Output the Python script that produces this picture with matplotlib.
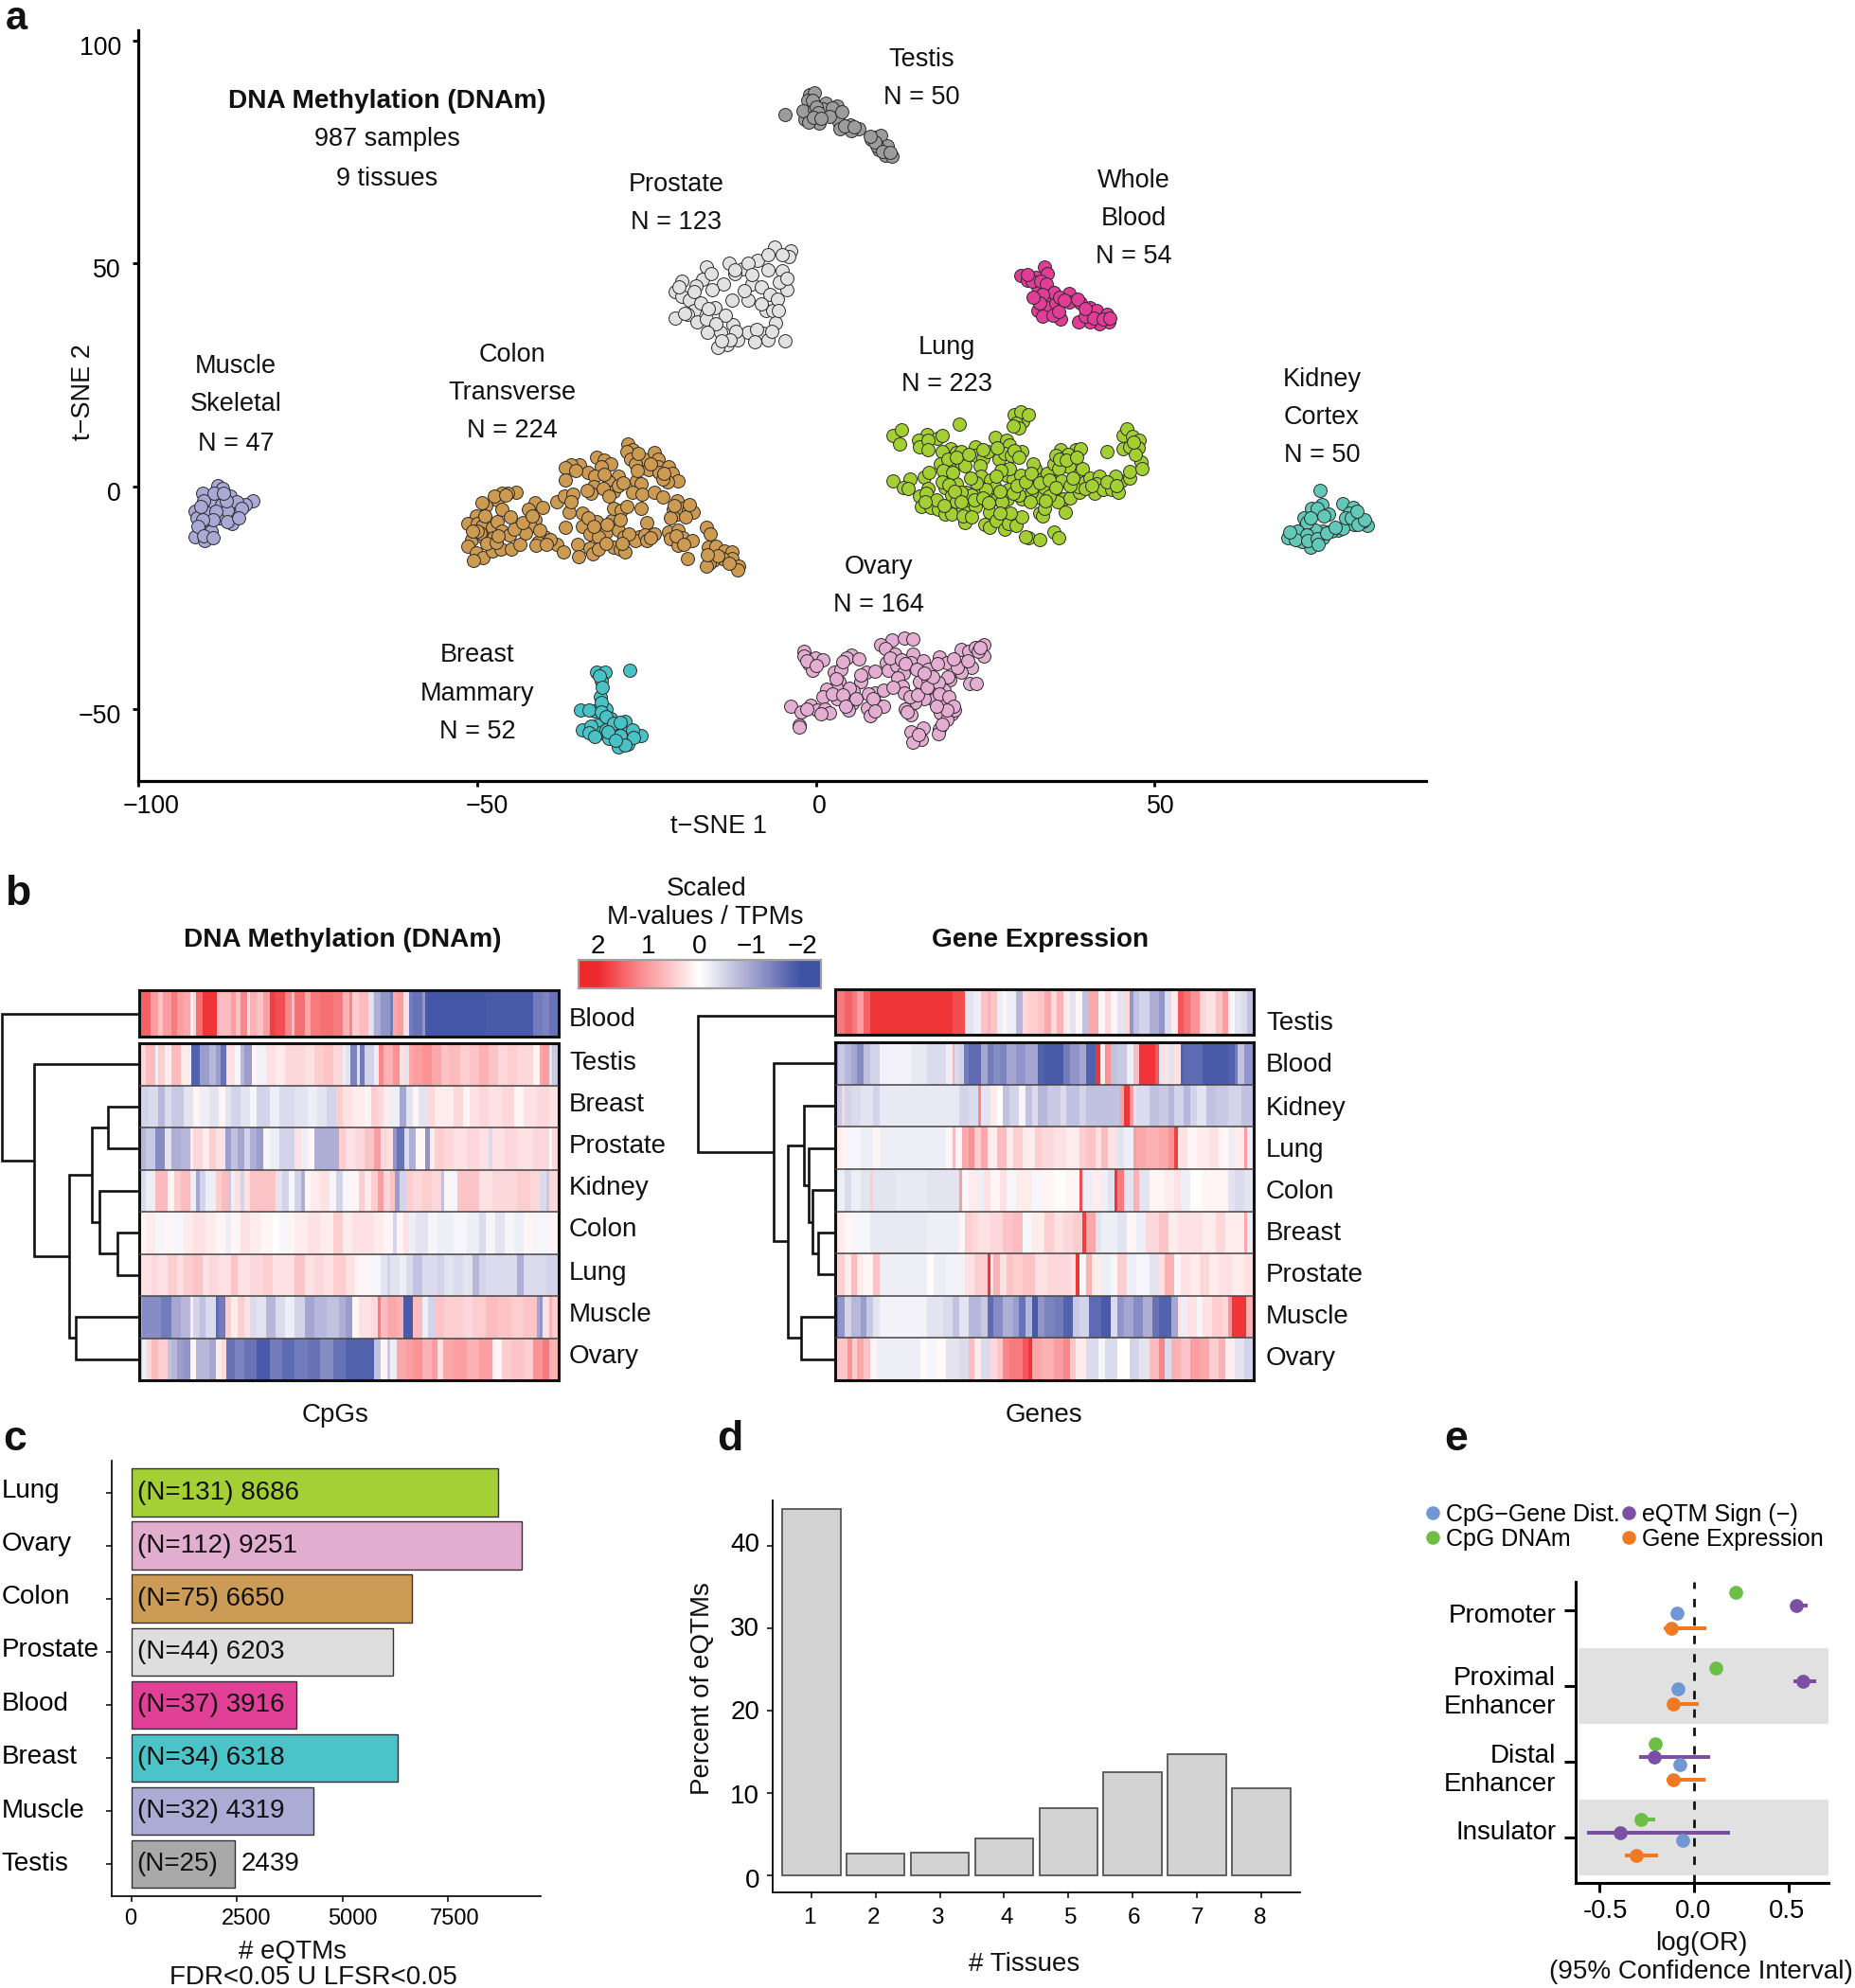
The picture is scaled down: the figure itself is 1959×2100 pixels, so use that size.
import matplotlib
matplotlib.use("Agg")
import numpy as np
import matplotlib.pyplot as plt
from matplotlib.colors import LinearSegmentedColormap
from matplotlib.transforms import Affine2D
from matplotlib.lines import Line2D

plt.rcParams['font.family'] = ['Liberation Sans', 'DejaVu Sans']
W, H = 1959, 2100
fig = plt.figure(figsize=(W / 100, H / 100), dpi=100, facecolor='white')

# ---------------- panel a: t-SNE coordinates ----------------
testis_pts = [(-4.5,83.5),(-0.9,87.9),(-0.2,88.3),(-1.2,86.5),(1.5,85.9),(3.2,85.3),(-1.6,82.3),(-0.7,83.1),(0.5,81.5),(1.1,84.7),(3.4,81.7),(3.6,80.2),(5.1,81.1),(6.4,80.3),(8.2,77.8),(8.8,78.4),(9.6,78.7),(9.3,75.5),(10.3,74.3),(11.2,74.0),(10.6,76.3),(-1.9,84.3),(-0.2,84.7),(5.2,79.9),(-0.5,86.5),(0,85.2),(0.3,83.8),(-1,81.7),(2.5,85),(4.2,80.8),(2,83),(9,76.5),(8.8,77.2),(9.9,75.2),(10.9,74.9),(8,78.5),(-0.3,82.7),(0.7,82.5),(3.8,84),(5.6,80.6)]
prostate_pts = [(-6.1,53.7),(-3.7,52.9),(-4.0,51.6),(-12.8,50.1),(-10.9,48.9),(-8.6,50.7),(-16.2,49.2),(-11.9,47.7),(-13.6,45.4),(-4.9,48.3),(-19.8,46.0),(-20.8,43.8),(-19.8,42.6),(-16.7,46.5),(-15.3,44.2),(-18.6,41.8),(-9.5,45.4),(-8.0,44.8),(-4.2,44.2),(-6.8,43.0),(-12.4,41.8),(-10.0,41.8),(-14.9,40.0),(-7.3,39.4),(-6.4,39.4),(-18.0,39.4),(-20.8,37.8),(-18.9,38.6),(-17.5,37.0),(-16.2,37.6),(-5.9,36.8),(-12.2,36.2),(-14.0,34.6),(-10.0,34.6),(-7.7,34.3),(-4.6,32.6),(-7.1,32.9),(-11.6,32.9),(-13.1,31.9),(-14.4,31.1),(-5,52),(-12,48.5),(-10,50),(-9.5,47.5),(-7,48.7),(-5.4,45.9),(-15.5,47.7),(-17.7,45),(-18,43.7),(-20.2,44.8),(-17,41.2),(-15.8,39.8),(-13.3,38.5),(-11.8,34.7),(-12.6,32.8),(-8.8,35.2),(-9,32.5),(-6.5,34.7),(-5.6,42),(-5.5,39.5),(-14.8,36.5),(-19.4,38.9),(-13.9,32.7),(-8,41),(-10.5,44),(-16,34.5),(-4.3,46.7),(-7,52)]
blood_pts = [(30.3,47.4),(31.3,46.2),(32.5,46.9),(33.7,49.2),(34.2,47.8),(32.7,44.8),(34.7,43.8),(33.7,41.8),(32.8,39.4),(34.4,40.0),(35.4,41.2),(37.4,43.3),(37.4,41.4),(36.1,37.6),(39.1,41.2),(40.5,40.0),(41.5,39.4),(43.0,38.6),(43.2,37.0),(41.8,36.4),(40.5,37.0),(38.8,37.0),(33.4,38.2),(32.0,46.0),(33.2,46),(34,45.5),(35.2,43.5),(33.5,43),(36,42.5),(38.6,42),(33,41.2),(35,38.5),(35.8,39.3),(39.8,38.3),(41,37.8),(42.4,37.6),(43.4,37.8),(39.8,39.8),(32.1,42.4),(36.7,41.8),(31.2,47.6)]
kidney_pts = [(74.4,-0.9),(74.7,-4.1),(73.2,-4.9),(72.0,-7.1),(75.7,-6.2),(77.8,-3.8),(79.3,-4.7),(78.8,-5.9),(78.5,-8.2),(79.5,-8.6),(81.4,-8.8),(80.7,-7.9),(77.1,-9.8),(74.8,-10.0),(73.7,-9.7),(72.0,-9.4),(70.3,-10.6),(71.2,-11.8),(73.0,-13.6),(74.8,-11.5),(76.1,-10.0),(69.6,-11.5),(71.7,-12.4),(77.8,-9.4),(74,-5),(75,-6.7),(72.4,-8),(73,-7),(71,-10),(72.5,-10.8),(70.8,-12),(72.6,-12.2),(74,-11.6),(75.4,-10.5),(76.7,-9.2),(78.2,-7),(79,-7),(80,-8.4),(81,-7.5),(74.2,-13),(69.9,-10.2),(79.9,-5.5)]
muscle_pts = [(-88.3,0.1),(-87.6,-0.5),(-90.5,-1.4),(-89.2,-3.5),(-83.1,-3.2),(-84.2,-4.1),(-85.3,-5.9),(-87.7,-4.1),(-91.6,-5.5),(-89.8,-5.9),(-88.0,-7.0),(-86.2,-8.2),(-91.3,-7.0),(-89.8,-8.8),(-90.7,-10.0),(-89.3,-10.0),(-91.6,-11.2),(-90.2,-12.2),(-86.8,-5.3),(-88.8,-1.6),(-86.5,-2.2),(-85.5,-3.5),(-87,-3.2),(-90.3,-3.2),(-90.8,-4.5),(-88.5,-5.5),(-86.9,-7.8),(-88.9,-7.5),(-90.5,-7.5),(-91.2,-8.9),(-90.4,-11),(-89,-11.5),(-84.8,-5),(-85.2,-7),(-87.4,-1.5)]
breast_pts = [(-27.4,-41.2),(-32.4,-41.6),(-31.1,-41.6),(-31.6,-43.6),(-31.8,-47.2),(-34.7,-50.2),(-32.7,-50.3),(-30.9,-49.9),(-30.3,-52.0),(-34.5,-54.5),(-32.2,-53.5),(-28.2,-52.7),(-31.8,-55.3),(-30.5,-56.5),(-27.8,-55.3),(-25.8,-55.9),(-27.8,-57.7),(-29.1,-58.3),(-29.6,-54.7),(-32,-42.5),(-31.5,-45),(-31.7,-48.5),(-33.5,-50.1),(-31.6,-50.6),(-31,-51.5),(-33.2,-53.7),(-33.5,-55.2),(-31,-54.5),(-29.8,-53),(-28.9,-52.8),(-27,-54.5),(-26.9,-56.3),(-28.8,-55.8),(-30.7,-55),(-32.6,-56),(-28.2,-58),(-29.5,-57)]
colon_pts = [(-27.8,9.6),(-27.1,8.3),(-27.9,7.9),(-27.3,6.2),(-25.4,6.2),(-23.8,7.6),(-23.3,6.2),(-26.6,5.1),(-24.7,3.8),(-23.3,4.4),(-21.7,4.4),(-23.1,3.1),(-21.2,3.0),(-20.4,1.2),(-21.9,1.0),(-22.6,1.6),(-32.4,6.5),(-31.3,6.0),(-30.3,5.0),(-31.6,4.4),(-34.9,4.8),(-36.1,4.8),(-37.0,4.3),(-33.6,3.2),(-37.0,1.4),(-29.2,2.4),(-30.6,1.1),(-32.7,2.3),(-32.8,0.0),(-33.2,-1.4),(-29.9,-1.0),(-29.2,0.2),(-26.5,1.2),(-25.8,0.7),(-27.1,-1.3),(-25.7,-1.8),(-23.8,-1.3),(-22.6,-2.3),(-44.2,-1.3),(-45.5,-1.4),(-46.4,-1.4),(-47.1,-3.0),(-48.7,-4.2),(-49.3,-3.7),(-46.4,-5.2),(-45.1,-6.9),(-50.1,-6.6),(-51.4,-8.2),(-50.0,-8.3),(-49.2,-9.0),(-47.8,-9.2),(-47.1,-7.8),(-46.3,-9.9),(-45.2,-10.8),(-50.8,-12.0),(-49.1,-11.3),(-47.6,-11.5),(-51.3,-13.3),(-50.1,-14.9),(-49.1,-16.0),(-50.5,-16.5),(-47.8,-14.4),(-46.5,-14.0),(-44.9,-14.0),(-43.7,-12.9),(-41.5,-3.6),(-40.3,-4.7),(-42.4,-5.2),(-41.4,-7.5),(-42.2,-8.9),(-42.9,-10.5),(-40.1,-11.2),(-41.0,-12.6),(-38.2,-12.9),(-37.3,-14.7),(-39.2,-12.0),(-41.3,-13.2),(-38.2,-3.4),(-37.1,-2.1),(-35.9,-1.7),(-36.4,-5.7),(-34.4,-5.9),(-36.9,-9.2),(-34.4,-8.9),(-33.4,-10.6),(-32.3,-7.8),(-31.0,-10.1),(-30.1,-7.6),(-29.2,-9.8),(-29.9,-5.0),(-28.7,-5.4),(-27.9,-4.4),(-25.8,-5.0),(-24.9,-8.0),(-28.3,-11.3),(-32.1,-11.2),(-35.2,-12.9),(-35.0,-15.8),(-33.4,-13.9),(-32.9,-15.1),(-32.1,-14.1),(-29.9,-13.6),(-28.9,-14.1),(-28.1,-14.7),(-26.1,-11.2),(-26.6,-12.2),(-25.2,-10.8),(-23.8,-10.6),(-20.5,-3.2),(-21.0,-5.2),(-20.5,-6.2),(-19.6,-5.0),(-18.8,-5.4),(-18.1,-5.7),(-21.5,-7.1),(-21.7,-10.1),(-20.3,-9.8),(-21.5,-11.7),(-19.6,-11.5),(-18.2,-12.2),(-20.4,-13.2),(-19.0,-16.1),(-16.2,-9.2),(-15.6,-10.7),(-15.9,-13.6),(-14.8,-13.4),(-13.5,-14.4),(-12.4,-14.7),(-12.4,-16.1),(-13.8,-16.1),(-15.2,-16.5),(-15.7,-17.2),(-16.2,-17.9),(-11.4,-17.9),(-11.6,-18.6),(-49.5,-10.5),(-48.5,-12.7),(-47.2,-12.5),(-50,-10),(-48.8,-6.5),(-46.9,-11),(-44.5,-9.5),(-43.3,-8),(-41.9,-6.5),(-40.8,-9.8),(-39.7,-13),(-36.2,-3.5),(-33.6,-7),(-32.8,-8.9),(-30.8,-8.5),(-28.9,-7.4),(-27.6,-10.6),(-31,-12.8),(-28.6,-12.8),(-25,-12.1),(-24.4,-11.5),(-31.2,2.8),(-31.4,-.5),(-30.5,-2.2),(-28.4,.9),(-33.8,-.8),(-35.4,3.7),(-26.2,7.4),(-26.3,3.7),(-24.4,5),(-22.4,2.9),(-20.9,-4.3),(-19.2,-6.8),(-20.6,-11),(-19.5,-13),(-14.4,-15.6),(-16,-15.2),(-12.8,-17.2),(-18.6,-4.1),(-47.5,-2.2),(-45.8,-1.9),(-50.7,-9.9)]
lung_pts = [(11.4,11.5),(12.6,12.7),(12.4,9.5),(16.4,11.6),(18.0,10.9),(18.7,11.5),(15.1,10.4),(15.3,8.9),(16.5,10.4),(16.6,8.3),(21.2,14.0),(30.5,14.7),(29.3,16.1),(30.2,16.8),(31.4,16.1),(29.5,14.3),(30.0,13.2),(29.1,13.6),(19.9,8.4),(18.6,7.9),(20.7,7.6),(21.5,7.9),(18.4,5.1),(19.7,4.7),(21.4,5.2),(22.0,4.7),(23.5,9.0),(23.5,6.9),(24.7,6.4),(25.4,7.9),(26.5,11.0),(28.2,10.4),(28.6,9.3),(30.4,7.8),(27.0,6.2),(27.9,7.4),(28.9,6.9),(24.3,4.7),(11.4,1.2),(13.9,1.6),(12.9,-0.2),(13.6,-0.4),(16.0,2.1),(16.7,3.1),(16.5,-0.4),(15.3,-2.1),(16.3,-1.6),(19.1,1.9),(19.1,-0.2),(20.7,0.7),(20.1,-2.0),(20.7,-3.4),(15.6,-4.5),(17.0,-4.7),(18.1,-5.2),(19.1,-6.1),(20.0,-6.2),(21.7,-5.2),(22.0,-8.0),(21.7,-6.6),(22.6,-2.9),(22.1,-1.3),(23.5,-4.5),(24.2,-0.9),(24.4,2.3),(25.4,-1.6),(25.8,1.4),(26.5,-0.2),(26.8,-2.8),(25.6,-5.7),(24.9,-8.5),(25.6,-9.2),(26.6,-7.6),(27.9,-9.6),(28.4,-8.3),(29.6,-8.7),(30.4,-6.9),(28.7,-5.9),(28.1,2.6),(29.1,1.6),(30.2,2.5),(28.6,4.0),(28.4,-0.6),(28.3,-2.7),(30.4,-2.7),(32.7,-2.3),(31.8,-1.3),(31.6,-3.4),(33.0,2.1),(32.3,4.0),(32.1,5.0),(33.7,-0.2),(34.1,3.0),(33.0,-5.9),(33.5,-6.6),(33.7,-4.8),(31.4,-11.5),(33.0,-11.9),(35.1,-10.3),(35.9,-11.5),(30.9,-11.3),(36.1,8.3),(38.4,8.3),(39.1,8.5),(37.2,7.2),(35.1,5.1),(37.4,4.5),(35.8,4.0),(35.4,6.9),(39.0,3.1),(39.3,4.0),(35.1,1.0),(36.3,1.2),(35.1,-1.3),(36.6,-2.7),(37.5,-2.5),(35.7,-3.5),(36.8,-5.7),(38.9,-1.3),(38.8,0.0),(39.8,1.0),(40.5,1.9),(41.9,2.4),(41.4,0.7),(41.1,-1.6),(42.4,-0.6),(43.7,-0.6),(44.6,-1.3),(45.0,1.2),(46.3,1.9),(46.3,3.3),(44.2,2.3),(43.0,7.8),(45.3,11.5),(45.9,12.9),(46.7,11.3),(47.7,10.4),(45.3,8.5),(46.3,9.0),(47.6,8.6),(48.0,5.4),(48.2,4.0),(30.0,-2.0),(25.1,-0.6),(23.0,-2.0),(21.5,-1.3),(31.9,-0.2),(19.5,6.2),(20.8,6.5),(22.5,7.3),(24.6,8.2),(26.8,8.6),(29.3,8),(30,6.6),(18.8,3.6),(20.2,3.2),(18.6,1),(19.6,.5),(20.5,-1),(21.4,-3.5),(23.4,-2.9),(24.7,-2.5),(25.5,-3.6),(27.5,-3.4),(27.2,-1),(29.2,-1.4),(29.7,.2),(31,1),(31.8,2.9),(33,.9),(34.4,1.5),(34.5,-2.2),(33.9,-3.2),(35.4,-.3),(37.5,.2),(37.9,2),(39.8,-.4),(40.7,.3),(43,1),(44.4,.2),(47.2,7.2),(46.9,9.9),(36,6.2),(37,5.9),(38.5,6.5),(27.3,3.5),(26.6,2.4),(23.7,.9),(22.8,2),(17.8,-3),(16.2,-3.4),(19,-4.2),(23,-6.8),(27.2,-6)]
ovary_pts = [(-1.7,-37.0),(-1.7,-38.1),(-0.1,-38.4),(1.1,-38.8),(-1.0,-39.8),(-0.5,-41.3),(5.3,-37.9),(4.5,-38.4),(6.3,-38.6),(2.7,-41.6),(3.7,-40.9),(3.4,-43.7),(7.5,-41.7),(8.8,-41.5),(6.6,-43.7),(3.0,-45.0),(1.6,-45.5),(1.1,-47.1),(3.2,-47.6),(5.5,-45.9),(4.9,-45.3),(5.4,-48.6),(4.8,-50.1),(-3.7,-49.3),(-2.2,-50.5),(-0.8,-49.1),(0.2,-50.1),(1.3,-49.8),(2.0,-50.8),(-2.4,-53.5),(-2.4,-54.0),(8.8,-46.2),(10.0,-45.7),(7.8,-46.6),(7.6,-49.6),(9.1,-49.1),(10.0,-49.3),(8.1,-51.4),(11.2,-34.4),(13.1,-34.0),(14.3,-34.2),(9.6,-35.4),(10.3,-36.3),(11.7,-37.5),(10.4,-39.6),(10.7,-41.3),(11.9,-40.2),(12.9,-41.8),(12.1,-42.9),(12.8,-44.8),(13.1,-46.2),(14.3,-37.5),(14.1,-39.5),(15.8,-39.0),(16.6,-40.9),(18.3,-38.2),(19.3,-39.5),(18.0,-39.8),(21.4,-36.5),(22.6,-37.0),(23.6,-36.0),(24.8,-35.4),(24.8,-38.1),(23.0,-40.6),(21.5,-41.6),(20.9,-40.6),(19.8,-43.4),(19.5,-42.7),(22.7,-44.1),(23.7,-44.1),(15.6,-45.7),(17.4,-45.7),(19.0,-45.7),(15.3,-43.7),(16.5,-43.4),(18.1,-43.9),(17.4,-47.8),(16.0,-47.6),(14.6,-48.4),(18.9,-48.7),(13.2,-49.8),(14.1,-51.2),(20.0,-51.0),(18.4,-50.8),(19.3,-52.2),(14.1,-54.9),(15.8,-54.2),(15.6,-56.6),(14.3,-57.4),(18.3,-54.4),(18.1,-55.4),(20.5,-50.1),(-1.3,-39),(0.1,-40.2),(4,-39.2),(3,-43),(2.4,-46.6),(4,-46.7),(5.9,-47.5),(4.4,-49.2),(6.6,-42.2),(8.5,-47.6),(8.8,-50.4),(-1.4,-50),(.7,-51),(11,-38.5),(12.7,-38.9),(13.2,-39.8),(14.9,-41),(11.4,-45),(13.9,-47.1),(15,-46.8),(16.4,-45),(18.3,-46.6),(19.7,-47.2),(20.4,-49.2),(19.3,-50.1),(17.8,-49.2),(17.2,-42.6),(20.3,-38.6),(22.4,-39),(23.9,-37),(24.2,-36.2),(13.5,-50.5),(15.2,-55.7),(16,-41.9),(18.7,-53.2)]

tsne_sets = [
    (muscle_pts, '#A9A9D6'), (colon_pts, '#CC9A50'), (breast_pts, '#49C2C6'),
    (ovary_pts, '#E3AED2'), (lung_pts, '#A4CF33'), (kidney_pts, '#62C8B8'),
    (blood_pts, '#E03E96'), (prostate_pts, '#E2E2E2'), (testis_pts, '#9C9C9C'),
]

# ---------------- panel b: heatmap rows, (end of stripe in column rank, scaled value) ----------------
m_blood = [(4.5,1.5),(7,1.0),(8.5,.6),(11,1.0),(13,1.3),(15,1.0),(17,.9),(18,.1),(19,.4),(21,1.4),(25.5,1.9),(27,.7),(30,.7),(31.5,1.0),(33,.6),(35,1.2),(36,.3),(38,.8),(40,.6),(42,1.0),(44,1.8),(47,1.7),(49,1.2),(50,.7),(53,1.4),(55,.9),(58,1.3),(62,1.4),(65,1.3),(67,.8),(68,1.2),(70,.5),(73,.7),(74.5,-.3),(75,-.5),(77,-.9),(80,-1.2),(81,-1.5),(82,.9),(84,1.0),(86,.3),(87,-1.5),(90,-1.6),(91,-1.2),(92,-1.9),(110,-1.95),(125,-1.9),(128,-1.5),(130,-1.4),(133,-1.6)]
m_testis = [(3,.4),(6,.7),(7,-.2),(9,.5),(11,.2),(14,.7),(17.3,.2),(20,-1.8),(23,-1.1),(25,-.8),(26.5,-1.1),(28.5,-1.6),(31,.3),(33,-.1),(34,-.8),(36.5,-1.1),(38,.1),(41,-.15),(44,.3),(47,.2),(50,.4),(53,.4),(56,.3),(59,.5),(62,.6),(65,.4),(66,-.2),(67.5,-.3),(69.5,-1.4),(70.5,-.3),(72,-1.5),(75,-.5),(76.5,-.2),(78,1.2),(81,.8),(83,1.1),(84.5,.3),(86,-.3),(87,.9),(90,1.0),(93,1.1),(96,.9),(98,.6),(102,.7),(105,.5),(108,.6),(111,.8),(114,.6),(117,.4),(120,.5),(125,.4),(127,.1),(128,.9),(130,1.0),(131,-.3),(133,-.6)]
m_breast = [(4,-.5),(7,-.4),(9,-.8),(11,-.4),(15,-.6),(18,-.3),(20,.1),(23,-.2),(26,-.3),(28,.1),(30,-.3),(33,-.5),(36,-.3),(38,-.1),(42,-.5),(45,-.2),(50,-.4),(54,-.3),(57,-.2),(60,-.3),(63,-.5),(65,.5),(68,.3),(72,.2),(74,-.1),(76,.5),(78,.4),(80,.2),(83,-.2),(85,-1.0),(87,-.3),(89,.1),(92,-.3),(94,.4),(97,.2),(100,.2),(103,.4),(105,.1),(108,.3),(111,.4),(115,.3),(119,.4),(122,.1),(126,.3),(130,.4),(133,.3)]
m_prostate = [(3,-.8),(6,-.6),(9,-1.3),(11,-.3),(14,-.9),(17,-.8),(18,.2),(21,.4),(23,.2),(25,.5),(28,.3),(30,-1.1),(32,-.7),(34,-1.0),(36,-.5),(38,-.9),(40,-1.1),(42,-.1),(45,-.2),(50,-.5),(52,.3),(54,-.2),(56,.1),(59,-.9),(64,-.9),(66,.5),(69,.3),(72,.4),(75,.6),(77,1.0),(79,.4),(81,.3),(82,-1.2),(84.5,-1.6),(86,-.4),(88,-.9),(91,.1),(92.5,-1.2),(94,.2),(97,.5),(100,.4),(104,.3),(108,.4),(111,.3),(112,-.4),(116,.3),(120,.4),(125,.3),(130,.4),(131,.1),(133,.4)]
m_kidney = [(3,-.4),(6,-.2),(8,.7),(10,.7),(12,.1),(14,.5),(17,.7),(19,-.2),(20,-1.0),(22,-.5),(25,-.2),(27,.5),(29,.7),(30,-.6),(31,-.2),(33,.3),(34,-.5),(36,.3),(40,.6),(44,.6),(46,-.3),(48,-.5),(50,-.1),(52,-.5),(53,-.9),(55,.1),(58,.2),(61,.3),(63,-.1),(65,-.5),(67,-.1),(70,.1),(72,.5),(74,.2),(76,.5),(78,1.0),(80,.4),(81.5,.6),(83,-1.1),(85,-.5),(87,.5),(90,.4),(93,.5),(96,.4),(97,-.7),(98,.1),(101,-.1),(105,.6),(108,.6),(112,.3),(116,.4),(120,.4),(124,.5),(127,.4),(129,-.4),(130,-.6),(133,.4)]
m_colon = [(3,.1),(6,.2),(9,-.1),(12,.1),(15,-.1),(18,.2),(22,.3),(25,.2),(28,.1),(30,-.2),(33,.1),(36,.3),(39,.2),(43,.1),(45,.02),(48,-.1),(50,.1),(54,.2),(58,.3),(62,.2),(65,.5),(68,.2),(72,.3),(75,.3),(78,.2),(81,.1),(82,-.5),(84,.1),(86,.3),(88,-.2),(92,-.3),(95,-.1),(100,-.2),(104,-.1),(108,-.2),(110,-.4),(113,-.1),(116,-.3),(119,-.1),(122,-.2),(125,.1),(130,-.1),(133,.1)]
m_lung = [(5,.3),(7,.4),(10,.3),(13,.5),(15,.3),(18,.5),(21,.6),(23,.3),(26,.4),(30,.3),(32,.6),(36,.3),(40,.4),(43,.5),(46,.3),(50,.3),(53,.6),(56,.3),(59,.4),(62,.3),(66,.5),(69,.3),(71,.1),(74,.1),(77,-.1),(79,-.3),(80,-.5),(83,-.3),(85,-.2),(87,-.4),(90,-.7),(92,-.4),(95,-.4),(97,-.5),(100,-.3),(103,-.4),(106,-.3),(108,-.8),(110,-.5),(112,-.4),(116,-.4),(120,-.4),(122,-.9),(125,-.4),(129,-.4),(133,-.5)]
m_muscle = [(2,-.9),(5,-1.3),(8,-1.3),(11,-1.5),(14,-1.0),(17,-.8),(18,.2),(20,-.5),(22,-.7),(25,-.4),(26,-1.7),(28,-1.5),(30,.5),(32,.2),(34,.5),(36,.3),(38,-.4),(41,-.3),(44,-.8),(47,-.4),(50,-.2),(53,-.5),(56,-1.0),(60,-.8),(64,-.7),(66,-.9),(68,-1.1),(70,.1),(74,.3),(76,.4),(77,1.3),(79,.7),(82,.9),(84,.8),(87,-1.9),(90,.7),(92,-.2),(94,-.5),(97,.6),(100,.5),(103,.5),(106,.4),(110,.5),(114,.7),(118,.6),(122,.5),(126,.6),(127,-1.0),(128,-1.2),(130,.3),(131,.8),(133,.5)]
m_ovary = [(2,-.7),(3.5,-.2),(5,.4),(7,.7),(10,.5),(11,-.7),(13,-.8),(15,-1.1),(17,-1.2),(19,.1),(21,-.8),(23,-.8),(25,-1.0),(27,.2),(28.5,.4),(31,-1.6),(34,-1.4),(38,-1.6),(42,-1.9),(46,-1.5),(50,-1.7),(54,-1.5),(58,-1.6),(62,-1.3),(66,-1.6),(70,-1.8),(75,-1.8),(77,-.7),(79,.1),(80,-.6),(82,-.2),(85,.9),(87,1.0),(90,1.1),(93,.8),(95,1.0),(96.5,.3),(100,.9),(104,1.0),(108,.8),(112,1.0),(113,.2),(115,.1),(118,.5),(122,.6),(125,.5),(128,1.1),(130,1.3),(133,.8)]

g_testis = [(2,1.2),(4,1.3),(6.5,1.5),(8,1.3),(10,1.0),(12,1.5),(38,1.9),(42,1.7),(44.5,-.3),(47,-.2),(49,.6),(50,.8),(52,.6),(54,-.2),(55,.1),(58,-.2),(60,-.8),(62,.4),(65,.5),(67,.6),(69,.9),(71,.4),(73,.8),(75,.2),(77,-.3),(79,.1),(81,-.7),(84,.9),(86,.1),(88,.4),(90,.1),(92,-.3),(94,.4),(95,-1.2),(97,-.7),(100,-.5),(103,-.9),(105,-1.2),(107,-.4),(109,.2),(111,1.6),(113,1.4),(116,1.1),(118,.4),(121,.3),(123,.6),(125,1.0),(127,.1),(129,-.3),(131,-.4),(133,-.7)]
g_blood = [(2,-1.2),(4,-.6),(6,-.8),(8,-1.0),(10,-1.3),(12,-.7),(15,-.5),(25,-.15),(30,-.25),(36,-.4),(38,-.2),(38.5,.8),(40,-.4),(41.5,-.5),(43,-1.5),(47,-1.7),(49,-1.0),(51,-1.5),(53,-1.3),(55,-1.4),(58,-1.0),(61,-1.2),(65,-1.0),(67,-1.8),(73,-1.9),(75,-1.5),(78,-1.2),(80,-1.0),(83,-1.8),(84.5,1.9),(86,.2),(88,1.1),(90,-.7),(93,-.6),(95,-.2),(97,.7),(102,1.9),(103,1.6),(104,-.3),(106,.3),(108,-.3),(110,.3),(111,-1.8),(117,-1.7),(122,-1.9),(125,-1.9),(127,-1.8),(128,-1.5),(130,-.7),(133,-1.2)]
g_kidney = [(3,-.6),(4,.4),(6,-.5),(9,-.4),(13,-.3),(15,-.5),(40,-.25),(43,-.5),(46,-.4),(47,1.2),(50,-.3),(52,.2),(54,.02),(56,-.7),(59,-.5),(61,-.1),(63,-.7),(65,-.4),(68,-.8),(72,-.6),(74,-.4),(78,-.7),(80,-.5),(84,-.7),(88,-.7),(91,-.7),(92,1.0),(94,1.9),(95,1.0),(96,-.3),(100,-.4),(103,-.7),(106,-.6),(108,-.8),(111,-.5),(113,-.8),(115,-.5),(118,-.3),(121,-.7),(125,-.6),(129,-.5),(133,-.7)]
g_lung = [(3,.2),(5,.1),(9,-.1),(13,-.2),(15,.1),(36,-.2),(38,.1),(39,.7),(41,.1),(43,.9),(45,1.1),(47,.5),(49,.9),(50,.2),(52,.2),(55,.7),(57,.2),(60,.5),(64,.2),(66,.5),(70,.4),(74,.3),(78,.2),(80,.5),(83,.6),(85,.3),(87,.7),(90,.3),(92,-.3),(95,-.2),(96,1.0),(99,.9),(103,.8),(106,.9),(108,1.1),(109,1.8),(112,.3),(115,.1),(119,.2),(122,.3),(125,.1),(127,-.2),(130,.2),(131,1.0),(133,-.2)]
g_colon = [(2,-.3),(4,-.2),(6,-.4),(9,-.2),(12,-.3),(13,.5),(20,-.3),(30,-.25),(40,-.3),(41,1.0),(43,.1),(46,.2),(48,-.2),(50,.3),(53,.1),(55,.3),(58,-.1),(63,.2),(66,-.1),(70,.1),(74,.02),(78,.1),(79,1.7),(82,-.2),(85,.2),(87,-.2),(89,-.3),(90,1.9),(92,1.3),(95,-.3),(97,.8),(100,-.3),(105,.1),(108,.2),(110,.3),(113,-.2),(117,.02),(122,.1),(125,.1),(127,-.3),(130,-.4),(133,-.3)]
g_breast = [(2,.3),(4,.2),(7,.1),(9,-.1),(12,-.1),(30,-.25),(40,-.2),(42,.1),(44,.5),(46,.4),(50,.3),(54,.4),(57,.6),(60,.7),(63,-.1),(67,.2),(70,.5),(73,.3),(76,.4),(79,.5),(80,1.8),(83,.9),(85,-.3),(90,-.2),(93,-.3),(96,.1),(99,-.2),(103,.4),(106,.6),(109,.2),(113,.3),(117,.3),(121,.2),(124,.4),(130,.2),(131,.9),(133,-.2)]
g_prostate = [(2,.2),(4,.5),(6,.2),(8,.7),(10,.2),(13,.1),(15,.6),(30,-.2),(32,.05),(36,-.2),(42,-.15),(45,.3),(49,.5),(50,1.9),(51,.3),(53,.8),(55,.3),(57,.6),(60,.5),(64,.6),(68,.3),(72,.4),(75,.4),(77,.3),(78,1.9),(80,-.1),(82,.8),(85,.2),(88,-.2),(90,-.1),(93,.5),(96,-.2),(100,-.1),(103,-.3),(105,.3),(108,.8),(110,.1),(113,.3),(116,.2),(119,.4),(122,.2),(126,.3),(130,.2),(133,.3)]
g_muscle = [(2,-1.5),(4,-1.2),(6,-.5),(9,-.8),(11,-1.1),(13,-.6),(15,-.3),(30,-.15),(35,-.3),(38,-.4),(40,-.7),(43,-.3),(47,-.8),(49,-.6),(51,-1.7),(54,-1.3),(57,-.9),(59,-1.1),(61,-1.6),(63,-.8),(65,-1.9),(67,-1.2),(70,-1.4),(73,-1.5),(76,-1.8),(78,-.6),(81,-.5),(85,-1.7),(88,-1.9),(90,-.4),(92,-1.2),(95,-1.0),(98,-1.3),(101,-.9),(103,-1.6),(107,-1.8),(109,-1.0),(110,.3),(112,-.2),(115,.3),(117,-.1),(120,.3),(123,.5),(125,.4),(126,1.1),(130.5,1.9),(133,.8)]
g_ovary = [(2,.5),(5,.6),(6.5,1.1),(8,.5),(10,.9),(12,.6),(14,.1),(18,-.2),(28,-.2),(30,.05),(33,-.1),(36,.05),(40,-.3),(43,-.4),(45,.7),(47,.2),(50,-.4),(52,.4),(54,.6),(56,1.2),(60,1.3),(62,1.6),(63,1.9),(66,.9),(70,.8),(73,1.0),(75,1.2),(77,.6),(80,.2),(84,-.4),(86,-.1),(90,-.4),(94,.02),(97,-.5),(100,-.3),(103,.7),(105,1.2),(107,-.4),(110,.8),(113,.6),(116,1.0),(119,.9),(122,.5),(124,.8),(127,.2),(130,-.3),(133,-.5)]

dnam_labels = ['Blood','Testis','Breast','Prostate','Kidney','Colon','Lung','Muscle','Ovary']
gene_labels = ['Testis','Blood','Kidney','Lung','Colon','Breast','Prostate','Muscle','Ovary']
dnam_rows = [m_blood,m_testis,m_breast,m_prostate,m_kidney,m_colon,m_lung,m_muscle,m_ovary]
gene_rows = [g_testis,g_blood,g_kidney,g_lung,g_colon,g_breast,g_prostate,g_muscle,g_ovary]
# (merge height, child, child); integers are rows
dnam_tree = (1.0,0,(0.765,1,(0.51,(0.345,(0.228,2,3),(0.29,4,(0.16,5,6))),(0.462,7,8))))
gene_tree = (1.0,0,(0.448,1,(0.348,(0.225,2,(0.194,3,(0.166,4,(0.124,5,6)))),(0.248,7,8))))
scale_ticks = [2, 1, 0, -1, -2]

# ---------------- panel c ----------------
c_tissues = ['Lung','Ovary','Colon','Prostate','Blood','Breast','Muscle','Testis']
c_counts = [8686,9251,6650,6203,3916,6318,4319,2439]
c_donors = [131,112,75,44,37,34,32,25]
c_colors = ['#A5D035','#E2AECF','#CC9B55','#DEDEDE','#E23F96','#4AC4C8','#ABABD6','#A9A9A9']
c_ticks = [0,2500,5000,7500]

# ---------------- panel d ----------------
d_tissues = [1,2,3,4,5,6,7,8]
d_percent = [44.5,2.64,2.73,4.4,8.1,12.55,14.7,10.5]
d_yticks = [0,10,20,30,40]

# ---------------- panel e ----------------
e_regions = ['Promoter','Proximal\nEnhancer','Distal\nEnhancer','Insulator']
e_xticks = [-0.5,0.0,0.5]
e_dist = [-0.09,-0.086,-0.075,-0.061]
e_dist_lo = [-0.09,-0.086,-0.075,-0.061]
e_dist_hi = [-0.09,-0.086,-0.075,-0.061]
e_dnam = [0.218,0.113,-0.206,-0.281]
e_dnam_lo = [0.218,0.113,-0.206,-0.31]
e_dnam_hi = [0.218,0.113,-0.206,-0.206]
e_sign = [0.542,0.575,-0.211,-0.389]
e_sign_lo = [0.512,0.525,-0.289,-0.563]
e_sign_hi = [0.60,0.645,0.085,0.191]
e_expr = [-0.12,-0.108,-0.108,-0.307]
e_expr_lo = [-0.158,-0.14,-0.145,-0.367]
e_expr_hi = [0.063,0.027,0.058,-0.191]


def axpx(l, t, r, b):
    return fig.add_axes([l / W, 1 - b / H, (r - l) / W, (b - t) / H])

def tpx(x, y, s, size=19.5, ha='center', va='center', **kw):
    if va == 'center':
        y = y + 2.5
    fig.text(x / W, 1 - y / H, s, fontsize=size, ha=ha, va=va, color='#111111', **kw)

def shift_each(labels, dxs, dys):
    for lab, dx, dy in zip(labels, dxs, dys):
        lab.set_transform(lab.get_transform() + Affine2D().translate(dx, dy))

def clean(ax, lw):
    ax.spines[['top', 'right']].set_visible(False)
    ax.spines[['left', 'bottom']].set_linewidth(lw)

# panel letters
for letter, x, y, sz in [('a',6,31,30),('b',5,956,32),('c',3,1532,32),('d',757,1532,32),('e',1525,1532,32)]:
    tpx(x, y, letter, size=sz, ha='left', va='baseline', fontweight='bold')

# ---- a
ax = axpx(146, 32, 1506, 825)
for pts, col in tsne_sets:
    arr = np.array(pts)
    ax.scatter(arr[:, 0], arr[:, 1], s=100, c=col, edgecolors='#2a2a2a', linewidths=0.7, zorder=3)
ax.set_xlim(-100, 90.07)
ax.set_ylim(-66.03, 102.3)
clean(ax, 2.3)
ax.set_xticks([-100,-50,0,50]); ax.set_xticklabels(['−100','−50','0','50'])
ax.set_yticks([-50,0,50,100]); ax.set_yticklabels(['−50','0','50','100'])
ax.tick_params(axis='x', length=4, width=2, labelsize=19.3, pad=6)
ax.tick_params(axis='y', length=4, width=2, labelsize=19.3, pad=9)
shift_each(ax.get_xticklabels(), [13.5, 10, 4, 6], [0]*4)
shift_each(ax.get_yticklabels(), [0]*4, [-5]*4)
tpx(759, 870, 't−SNE 1', size=19.5)
tpx(88, 412, 't−SNE 2', size=19.5, rotation=90)
tpx(409, 104, 'DNA Methylation (DNAm)', size=20.2, fontweight='bold')
for x, y, s in [(409,145,'987 samples'),(409,186,'9 tissues'),
                (973,61,'Testis'),(973,101,'N = 50'),
                (714,192.5,'Prostate'),(714,233,'N = 123'),
                (249,385,'Muscle'),(249,425,'Skeletal'),(249,466,'N = 47'),
                (541,373,'Colon'),(541,413,'Transverse'),(541,453,'N = 224'),
                (504,690,'Breast'),(504,730,'Mammary'),(504,770,'N = 52'),
                (928,596.5,'Ovary'),(928,636,'N = 164'),
                (1000,364,'Lung'),(1000,403.5,'N = 223'),
                (1197.5,188.5,'Whole'),(1197.5,228,'Blood'),(1197.5,269,'N = 54'),
                (1396,399,'Kidney'),(1396,439,'Cortex'),(1396,479,'N = 50')]:
    tpx(x, y, s)

# ---- b
cmap = LinearSegmentedColormap.from_list('scaled', [(0,'#3F52A4'),(0.25,'#A6A6D2'),(0.5,'#FFFFFF'),(0.75,'#FB9EA2'),(1,'#EE2A2D')])

def stripes(ax, rows, y0):
    for i, row in enumerate(rows):
        ends = [e for e, _ in row]
        vals = np.array([v for _, v in row])[None, :]
        ax.pcolormesh([1] + ends, [y0 + i, y0 + i + 1], vals, cmap=cmap, vmin=-2, vmax=2, rasterized=True)

def heat(l, r, top_t, top_b, low_t, low_b, rows):
    a1 = axpx(l, top_t, r, top_b)
    stripes(a1, rows[:1], 0)
    a1.set_xlim(1, 133); a1.set_ylim(1, 0)
    a2 = axpx(l, low_t, r, low_b)
    stripes(a2, rows[1:], 0)
    a2.set_xlim(1, 133); a2.set_ylim(8, 0)
    a2.hlines(range(1, 8), 1, 133, color='#444444', lw=1.1, zorder=3)
    for a in (a1, a2):
        a.set_xticks([]); a.set_yticks([])
        for s in a.spines.values():
            s.set_linewidth(2.2); s.set_color('#111111')

def tree(ax, node, ys):
    if isinstance(node, int):
        return ys[node], 0.0
    h, a, b = node
    ya, ha_ = tree(ax, a, ys)
    yb, hb = tree(ax, b, ys)
    ax.plot([ha_, h, h, hb], [ya, ya, yb, yb], color='#111111', lw=1.9, solid_joinstyle='miter', solid_capstyle='butt')
    return (ya + yb) / 2, h

heat(147, 590, 1046, 1095, 1102, 1458, dnam_rows)
heat(882, 1324, 1045, 1093, 1101, 1458, gene_rows)

d1 = axpx(0, 1046, 147, 1458); d1.axis('off')
d1.set_xlim(147 / 145, 0); d1.set_ylim(1458, 1046)
tree(d1, dnam_tree, [1071] + [1102 + 44.5 * (i + .5) for i in range(8)])
d2 = axpx(735, 1045, 882, 1458); d2.axis('off')
d2.set_xlim(147 / 145, 0); d2.set_ylim(1458, 1045)
tree(d2, gene_tree, [1073] + [1101 + 44.6 * (i + .5) for i in range(8)])

tpx(362, 990, 'DNA Methylation (DNAm)', size=20.2, fontweight='bold')
tpx(1099, 990, 'Gene Expression', size=20.2, fontweight='bold')
for s, y in zip(dnam_labels, [1075,1120,1164,1208,1253,1297,1342,1386,1430]):
    tpx(601, y, s, size=20, ha='left')
for s, y in zip(gene_labels, [1078.6,1123,1168,1213,1256,1300,1345,1389,1433]):
    tpx(1337, y, s, size=20, ha='left')
tpx(354, 1493, 'CpGs', size=20)
tpx(1102, 1493, 'Genes', size=20)
tpx(746, 937, 'Scaled', size=20)
tpx(745, 966, 'M-values / TPMs', size=20)

cb = axpx(611, 1014, 867, 1044)
grad = np.linspace(2.37, -2.37, 300)[None, :]
cb.imshow(grad, aspect='auto', cmap=cmap, vmin=-2, vmax=2, extent=[2.37, -2.37, 0, 1])
cb.set_yticks([])
cb.set_xticks(scale_ticks)
cb.set_xticklabels(['2', '1', '0', '−1', '−2'])
cb.xaxis.tick_top()
cb.tick_params(axis='x', length=0, labelsize=20, pad=0.5)
for s in cb.spines.values():
    s.set_color('#A0A0A0'); s.set_linewidth(1.6)

# ---- c
ax = axpx(118, 1543, 571, 2002.5)
ypos = np.arange(len(c_counts))
ax.barh(ypos, c_counts, height=0.9, color=c_colors, edgecolor='#333333', linewidth=1)
ax.set_xlim(-470, 9700)
ax.set_ylim(7.6, -0.6)
clean(ax, 1.2)
ax.set_xticks(c_ticks)
ax.set_xticklabels([str(v) for v in c_ticks])
ax.set_yticks(ypos)
ax.set_yticklabels(c_tissues)
ax.tick_params(axis='x', length=4, width=1.1, labelsize=17, pad=6)
ax.tick_params(axis='y', length=4, width=1.1, labelsize=20, pad=80)
for lab in ax.get_yticklabels():
    lab.set_ha('left')
shift_each(ax.get_xticklabels(), [-1, 10, 11, 7], [0]*4)
shift_each(ax.get_yticklabels(), [0]*8, [5,5,5,4.5,4,3.5,3,2.5])
for y, n, v in zip(ypos, c_donors, c_counts):
    if v > 3000:
        ax.text(130, y, f'(N={n}) {v}', fontsize=20, va='center', ha='left', color='#111111')
    else:
        ax.text(130, y, f'(N={n})', fontsize=20, va='center', ha='left', color='#111111')
        ax.text(2590, y, f'{v}', fontsize=20, va='center', ha='left', color='#111111')
tpx(309, 2059.5, '# eQTMs', size=20)
tpx(331, 2086, 'FDR<0.05 U LFSR<0.05', size=20)

# ---- d
ax = axpx(816, 1585, 1372.8, 1999.4)
ax.bar(d_tissues, d_percent, width=0.907, color='#D3D3D3', edgecolor='#555555', linewidth=1.3)
ax.set_xlim(0.4, 8.6)
ax.set_ylim(-2.15, 45.5)
clean(ax, 1.3)
ax.set_xticks(d_tissues)
ax.set_yticks(d_yticks)
ax.tick_params(axis='x', length=4, width=1.1, labelsize=17.5, pad=7)
ax.tick_params(axis='y', length=4, width=1.1, labelsize=20, pad=6)
shift_each(ax.get_xticklabels(), [-2,-2,-3,3,2,1,0,-1], [0]*8)
shift_each(ax.get_yticklabels(), [0]*5, [-3.5,-1.5,1,2,4])
tpx(742, 1781, 'Percent of eQTMs', size=20, rotation=90)
tpx(1082, 2072, '# Tissues', size=20)

# ---- e
ax = axpx(1664, 1671, 1930.7, 1989)
yc = np.array([4, 3, 2, 1])
ax.axhspan(2.5, 3.5, xmin=0.01, color='#E1E1E1', lw=0, zorder=0)
ax.axhspan(0.5, 1.5, xmin=0.01, color='#E1E1E1', lw=0, zorder=0)
ax.axvline(0, color='#111111', lw=2, dashes=(3.2, 3.8), zorder=1)
series = [(e_dnam, e_dnam_lo, e_dnam_hi, '#6DBE45', 0.24),
          (e_sign, e_sign_lo, e_sign_hi, '#7B4FA3', 0.06),
          (e_dist, e_dist_lo, e_dist_hi, '#6F97D3', -0.04),
          (e_expr, e_expr_lo, e_expr_hi, '#F07A22', -0.24)]
for vals, lo, hi, col, off in series:
    ax.hlines(yc + off, lo, hi, color=col, lw=2.9, zorder=2)
    ax.scatter(vals, yc + off, s=112, color=col, linewidths=0, zorder=3)
ax.set_xlim(-0.625, 0.708)
ax.set_ylim(0.4, 4.375)
clean(ax, 2.2)
ax.set_xticks(e_xticks)
ax.set_xticklabels(['-0.5', '0.0', '0.5'])
ax.set_yticks(yc)
ax.set_yticklabels(e_regions, multialignment='right')
ax.tick_params(axis='x', length=7, width=2.2, labelsize=19.7, pad=5)
ax.tick_params(axis='y', length=9, width=2.2, labelsize=20, pad=6)
shift_each(ax.get_xticklabels(), [6, -1, -2], [0]*3)
shift_each(ax.get_yticklabels(), [0]*4, [-2.7, -2, -3.8, 7.6])
tpx(1796.7, 2051, 'log(OR)', size=20)
tpx(1796.7, 2081, '(95% Confidence Interval)', size=20)
handles = [Line2D([], [], marker='o', ls='none', markersize=10.5, color=c, markeredgewidth=0) for c in ['#6F97D3','#6DBE45','#7B4FA3','#F07A22']]
fig.legend(handles, ['CpG−Gene Dist.', 'CpG DNAm', 'eQTM Sign (−)', 'Gene Expression'], ncol=2, frameon=False,
           loc='upper left', bbox_to_anchor=(1503 / W, 1 - 1588 / H), fontsize=18, handlelength=0.8, handletextpad=0.148,
           columnspacing=0.0, labelspacing=0.08, borderpad=0, borderaxespad=0)

fig.savefig('out.png', dpi=100, facecolor='white')
